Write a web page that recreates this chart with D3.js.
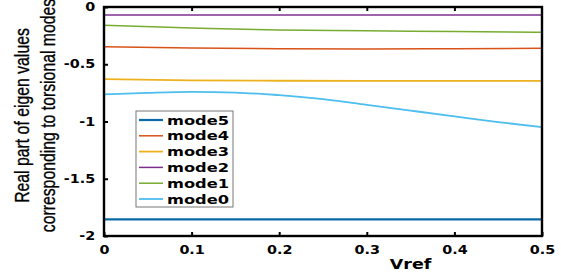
<!DOCTYPE html>
<html>
<head>
<meta charset="utf-8">
<script src="https://cdn.jsdelivr.net/npm/d3@7"></script>
<style>
  body { margin: 0; background: #fff; }
  svg { display: block; }
</style>
</head>
<body>
<svg id="chart"></svg>
<script>
// data
let vrefCoarse = [0, 0.1, 0.2, 0.3, 0.4, 0.5];
let vrefFine = [0, 0.05, 0.1, 0.15, 0.2, 0.25, 0.3, 0.35, 0.4, 0.45, 0.5];

let mode5 = [-1.855, -1.855, -1.855, -1.855, -1.855, -1.855];
let mode4 = [-0.347, -0.358, -0.364, -0.367, -0.364, -0.36];
let mode3 = [-0.629, -0.64, -0.644, -0.646, -0.646, -0.646];
let mode2 = [-0.07, -0.07, -0.07, -0.07, -0.07, -0.07];
let mode1 = [-0.16, -0.183, -0.201, -0.207, -0.215, -0.221];
let mode0 = [-0.763, -0.75, -0.742, -0.747, -0.77, -0.805, -0.855, -0.905, -0.955, -1.005, -1.05];

let seriesNames = ['mode5', 'mode4', 'mode3', 'mode2', 'mode1', 'mode0'];
let seriesColors = ['#0a6aa8', '#D95319', '#EDB120', '#7E2F8E', '#77AC30', '#4DBEEE'];

let xTicks = [0, 0.1, 0.2, 0.3, 0.4, 0.5];
let yTicks = [0, -0.5, -1, -1.5, -2];
let yLabelLines = ['Real part of eigen values', 'corresponding to torsional modes'];
let xLabel = 'Vref';

let width = 561,
    height = 276;
let margin = { left: 104, right: 19, top: 7, bottom: 40 };
let stretch = 1.25; // the picture is widened horizontally

let svg = d3.select('#chart')
    .attr('width', width)
    .attr('height', height);

let scaleX = d3.scaleLinear()
    .domain([0, 0.5])
    .range([margin.left, width - margin.right]);

let scaleY = d3.scaleLinear()
    .domain([-2, 0])
    .range([height - margin.bottom, margin.top]);

let series = [
    { name: 'mode5', x: vrefCoarse, y: mode5, w: 2.2 },
    { name: 'mode4', x: vrefCoarse, y: mode4, w: 1.5 },
    { name: 'mode3', x: vrefCoarse, y: mode3, w: 1.8 },
    { name: 'mode2', x: vrefCoarse, y: mode2, w: 1.5 },
    { name: 'mode1', x: vrefCoarse, y: mode1, w: 1.5 },
    { name: 'mode0', x: vrefFine, y: mode0, w: 1.8 }
];

let color = d3.scaleOrdinal().domain(seriesNames).range(seriesColors);

let line = d3.line()
    .x(d => scaleX(d[0]))
    .y(d => scaleY(d[1]))
    .curve(d3.curveMonotoneX);

// lines
svg.append('g')
    .selectAll('path')
    .data(series)
    .enter()
    .append('path')
    .attr('fill', 'none')
    .attr('stroke', d => color(d.name))
    .attr('stroke-width', d => d.w)
    .attr('d', d => line(d.x.map((v, i) => [v, d.y[i]])));

// x axis (ticks point inward)
let xAxis = d3.axisBottom(scaleX)
    .tickValues(xTicks)
    .tickSize(-4)
    .tickPadding(10)
    .tickFormat(d => String(d));

svg.append('g')
    .attr('transform', `translate(0, ${height - margin.bottom})`)
    .call(xAxis);

// top ticks
svg.append('g')
    .attr('transform', `translate(0, ${margin.top})`)
    .call(d3.axisTop(scaleX).tickValues(xTicks.slice(1, -1)).tickSize(-4).tickFormat(''));

// y axis
let yAxis = d3.axisLeft(scaleY)
    .tickValues(yTicks)
    .tickSize(-4)
    .tickPadding(7)
    .tickFormat(d => String(d));

svg.append('g')
    .attr('transform', `translate(${margin.left}, 0)`)
    .call(yAxis);

svg.selectAll('.domain').remove();
svg.selectAll('.tick line').attr('stroke', '#000').attr('stroke-width', 2);

svg.selectAll('.tick text')
    .attr('font-family', 'DejaVu Sans')
    .attr('font-weight', 'bold')
    .attr('font-size', 11.5)
    .attr('fill', '#000')
    .attr('transform', `scale(${stretch}, 1)`);

// frame
svg.append('rect')
    .attr('x', margin.left)
    .attr('y', margin.top)
    .attr('width', width - margin.left - margin.right)
    .attr('height', height - margin.top - margin.bottom)
    .attr('fill', 'none')
    .attr('stroke', '#000')
    .attr('stroke-width', 2.4);

// x label
svg.append('text')
    .attr('transform', `translate(${scaleX(0.35)}, 269) scale(${stretch}, 1)`)
    .attr('text-anchor', 'middle')
    .attr('font-family', 'DejaVu Sans')
    .attr('font-weight', 'bold')
    .attr('font-size', 14)
    .attr('fill', '#000')
    .text(xLabel);

// y label, two lines
svg.append('g')
    .selectAll('text')
    .data(yLabelLines)
    .enter()
    .append('text')
    .attr('transform', (d, i) => `translate(${29 + i * 26}, ${(margin.top + height - margin.bottom) / 2 - 6}) scale(${stretch}, 1) rotate(-90)`)
    .attr('text-anchor', 'middle')
    .attr('font-family', 'Liberation Sans, Arial')
    .attr('font-size', 15.8)
    .attr('fill', '#000')
    .attr('stroke', '#000')
    .attr('stroke-width', 0.25)
    .text(d => d);

// legend
let legendX = 136,
    legendY = 111,
    rowH = 15.8;

let legend = svg.append('g')
    .attr('transform', `translate(${legendX}, ${legendY})`);

legend.append('rect')
    .attr('width', 97)
    .attr('height', 96)
    .attr('fill', '#fff')
    .attr('stroke', '#777')
    .attr('stroke-width', 1);

let rows = legend.selectAll('g.row')
    .data(series)
    .enter()
    .append('g')
    .attr('class', 'row')
    .attr('transform', (d, i) => `translate(0, ${9 + i * rowH})`);

rows.append('line')
    .attr('x1', 3)
    .attr('x2', 27)
    .attr('stroke', d => color(d.name))
    .attr('stroke-width', d => d.w);

rows.append('text')
    .attr('transform', `translate(31, 0) scale(${stretch}, 1)`)
    .attr('dy', '0.36em')
    .attr('font-family', 'DejaVu Sans')
    .attr('font-weight', 'bold')
    .attr('font-size', 13)
    .attr('fill', '#000')
    .text(d => d.name);
</script>
</body>
</html>
